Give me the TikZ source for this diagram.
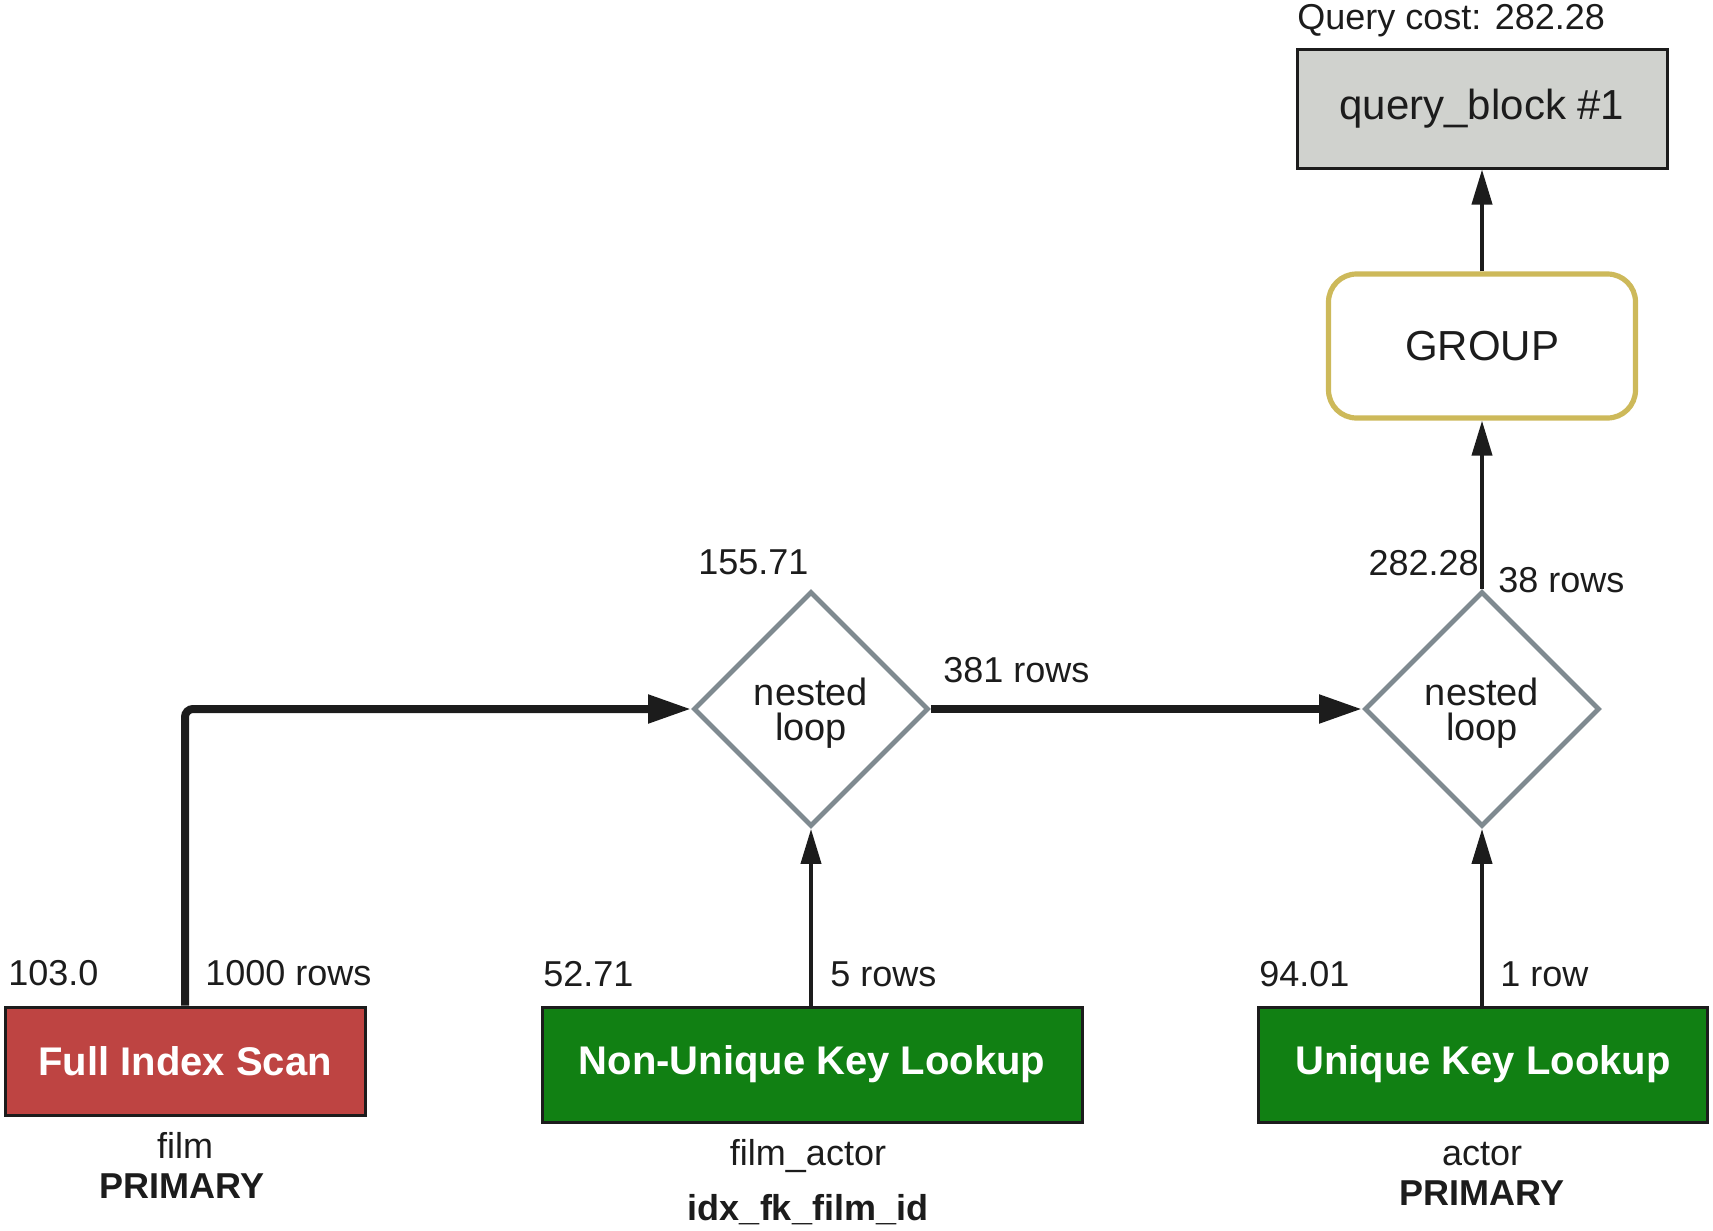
\documentclass[tikz,border=0pt]{standalone}
\usepackage{fontspec}
\setmainfont{Liberation Sans}
\usetikzlibrary{shapes.geometric,arrows.meta}
\definecolor{qbfill}{HTML}{D0D2CE}
\definecolor{grpborder}{HTML}{CDB95A}
\definecolor{dmborder}{HTML}{7F8A90}
\definecolor{redbox}{HTML}{BE4442}
\definecolor{greenbox}{HTML}{118013}
\definecolor{ink}{HTML}{1C1C1C}
\begin{document}
\begin{tikzpicture}[x=0.5pt,y=-0.5pt,
  lbl/.style={font=\fontsize{18}{20}\selectfont, text=ink, inner sep=0pt},
  boldlbl/.style={font=\fontsize{18}{20}\selectfont\bfseries, text=ink, inner sep=0pt},
  opbox/.style={draw=ink, line width=1.5pt, text=white, font=\fontsize{20}{22}\selectfont\bfseries, inner sep=0pt},
  loopdm/.style={diamond, draw=dmborder, line width=2.4pt, fill=white, inner sep=0pt,
    minimum width=117.5pt, minimum height=117.5pt},
  looptext/.style={align=center, font=\fontsize{19}{17.5}\selectfont, text=ink, inner sep=0pt},
  thinarrow/.style={draw=ink, line width=2pt, -{Triangle[length=17.5pt,width=10pt]}},
  thickarrow/.style={draw=ink, line width=4pt, rounded corners=4pt, -{Triangle[length=21.5pt,width=13.5pt]}}
]
\useasboundingbox (0,0) rectangle (1713,1231);

% top block
\node[draw=ink, line width=1.5pt, fill=qbfill, minimum width=185pt, minimum height=59.5pt,
      inner sep=0pt, font=\fontsize{21}{24}\selectfont, text=ink] (qb) at (1482,108.5) {query\_block \#1};
\node[lbl, anchor=base west] (qc) at (1297,29) {Query cost: 282.28};

% group
\node[draw=grpborder, line width=2.6pt, rounded corners=14pt, fill=white,
      minimum width=153.5pt, minimum height=72pt, inner sep=0pt,
      font=\fontsize{21}{24}\selectfont, text=ink] (grp) at (1482,346) {GROUP};

% nested loops
\node[loopdm] (d1) at (811,709) {};
\node[loopdm] (d2) at (1482,709) {};
\node[looptext] (t1) at (811,713) {nested\\loop};
\node[looptext] (t2) at (1482,713) {nested\\loop};
\node[lbl, anchor=base west] (c1) at (698,574) {155.71};
\node[lbl, anchor=base west] (r1) at (943,682) {381 rows};
\node[lbl, anchor=base east] (c2) at (1479,575) {282.28};
\node[lbl, anchor=base west] (r2) at (1498,592) {38 rows};

% access boxes
\node[opbox, fill=redbox, minimum width=180pt, minimum height=54pt] (fis) at (185,1061) {Full Index Scan};
\node[opbox, fill=greenbox, minimum width=270pt, minimum height=57.5pt] (nukl) at (812,1064.5) {Non-Unique Key Lookup};
\node[opbox, fill=greenbox, minimum width=224.5pt, minimum height=57.5pt] (ukl) at (1483,1064.5) {Unique Key Lookup};

\node[lbl, anchor=base west] (fcost) at (8,985) {103.0};
\node[lbl, anchor=base west] (frows) at (205,985) {1000 rows};
\node[lbl, anchor=base west] (ncost) at (543,986) {52.71};
\node[lbl, anchor=base west] (nrows) at (830,986) {5 rows};
\node[lbl, anchor=base west] (ucost) at (1259,986) {94.01};
\node[lbl, anchor=base west] (urows) at (1500,986) {1 row};

\node[lbl, anchor=base] (ft) at (185,1158) {film};
\node[boldlbl, anchor=base] (fk) at (182,1198) {PRIMARY};
\node[lbl, anchor=base] (nt) at (808,1165) {film\_actor};
\node[boldlbl, anchor=base] (nk) at (808,1220) {idx\_fk\_film\_id};
\node[lbl, anchor=base] (ut) at (1482,1165) {actor};
\node[boldlbl, anchor=base] (uk) at (1482,1205) {PRIMARY};

% connectors
\draw[thickarrow] (fis.north) |- (d1.west);
\draw[thickarrow] (d1.east) -- (d2.west);
\draw[thinarrow] (nukl.north -| d1.south) -- (d1.south);
\draw[thinarrow] (ukl.north -| d2.south) -- (d2.south);
\draw[thinarrow] (d2.north) -- (grp.south);
\draw[thinarrow] (grp.north) -- (qb.south);
\end{tikzpicture}
\end{document}
